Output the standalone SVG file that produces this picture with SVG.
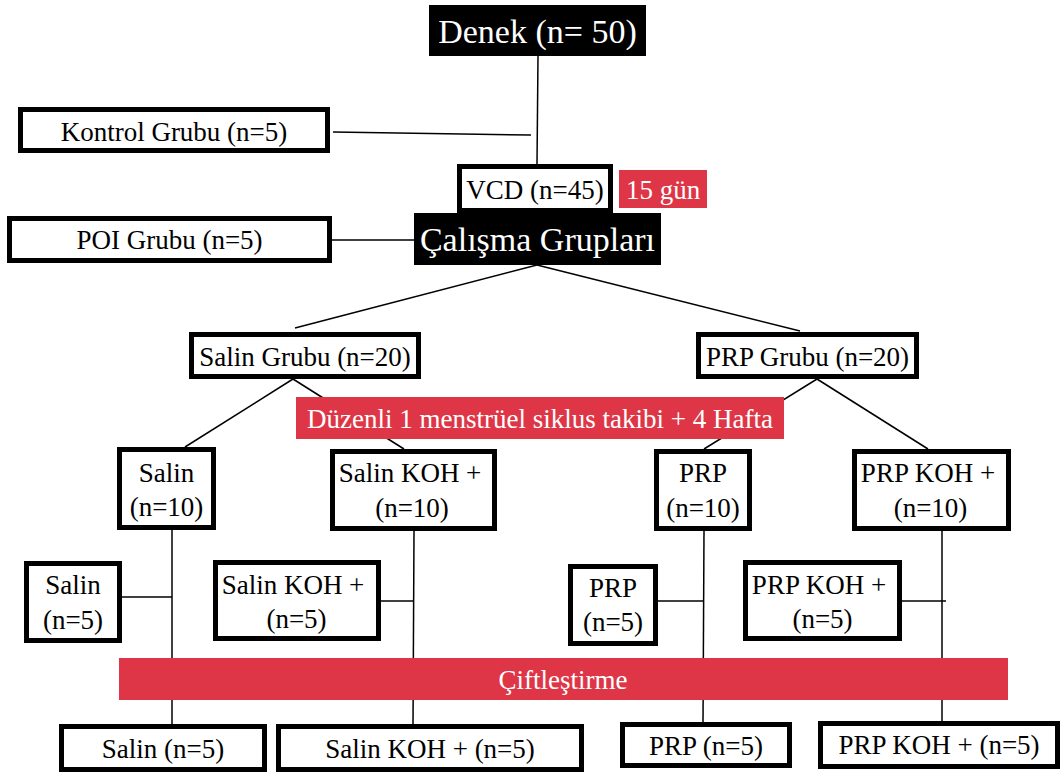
<svg xmlns="http://www.w3.org/2000/svg" width="1061" height="774" viewBox="0 0 1061 774">
<style>
.box{fill:#fff;stroke:#000;stroke-width:5}
.dark{fill:#000}
.red{fill:#DE3646}
.t{font-size:27px;fill:#000;text-anchor:middle}
.w{fill:#fff}
.big{font-size:34px}
.c line{stroke:#000;stroke-width:1.5}
</style>
<rect width="1061" height="774" fill="#fff"/>
<g id="connectors" class="c">
<line x1="538" y1="56" x2="537" y2="164"/>
<line x1="333" y1="132" x2="531" y2="135"/>
<line x1="332" y1="240" x2="414" y2="240"/>
<line x1="537" y1="265" x2="295" y2="328"/>
<line x1="537" y1="265" x2="800" y2="331"/>
<line x1="293" y1="379" x2="185" y2="447"/>
<line x1="293" y1="379" x2="404" y2="449"/>
<line x1="817" y1="379" x2="704" y2="449"/>
<line x1="817" y1="379" x2="928" y2="449"/>
<line x1="172" y1="530" x2="172" y2="724"/>
<line x1="414" y1="531" x2="413" y2="724"/>
<line x1="704" y1="531" x2="703" y2="722"/>
<line x1="942" y1="531" x2="942" y2="721"/>
<line x1="122" y1="597" x2="172" y2="597"/>
<line x1="381" y1="601" x2="414" y2="601"/>
<line x1="658" y1="601" x2="704" y2="601"/>
<line x1="902" y1="601" x2="946" y2="601"/>
</g>
<g id="nodes" font-family="Liberation Serif, Tinos, Times New Roman, DejaVu Serif, serif">
<g id="denek"><rect class="dark" x="429" y="5" width="217" height="51"/><text class="t w big" x="537.5" y="43">Denek (n= 50)</text></g>
<g id="kontrol"><rect class="box" x="20.5" y="109.5" width="307" height="41"/><text class="t" x="174" y="141">Kontrol Grubu (n=5)</text></g>
<g id="vcd"><rect class="box" x="459.5" y="166.5" width="151" height="44"/><text class="t" x="535" y="199">VCD (n=45)</text></g>
<g id="gun15"><rect class="red" x="619" y="170" width="88" height="38"/><text class="t w" x="663" y="199">15 gün</text></g>
<g id="poi"><rect class="box" x="9.5" y="218.5" width="320" height="42"/><text class="t" x="169.5" y="249">POI Grubu (n=5)</text></g>
<g id="calisma"><rect class="dark" x="414" y="213" width="247" height="52"/><text class="t w big" x="537.5" y="251">Çalışma Grupları</text></g>
<g id="salinGrubu"><rect class="box" x="191.5" y="334.5" width="227" height="42"/><text class="t" x="305" y="366">Salin Grubu (n=20)</text></g>
<g id="prpGrubu"><rect class="box" x="698.5" y="334.5" width="218" height="42"/><text class="t" x="807.5" y="366">PRP Grubu (n=20)</text></g>
<g id="duzenli"><rect class="red" x="296" y="397" width="488" height="42"/><text class="t w" x="540" y="428">Düzenli 1 menstrüel siklus takibi + 4 Hafta</text></g>
<g id="salin10"><rect class="box" x="119.5" y="449.5" width="94" height="78"/><text class="t" x="166.5" y="482">Salin</text><text class="t" x="166.5" y="516">(n=10)</text></g>
<g id="salinKoh10"><rect class="box" x="332.5" y="451.5" width="162" height="77"/><text class="t" x="410" y="482">Salin KOH +</text><text class="t" x="412" y="517">(n=10)</text></g>
<g id="prp10"><rect class="box" x="656.5" y="451.5" width="93" height="77"/><text class="t" x="703" y="482">PRP</text><text class="t" x="703" y="517">(n=10)</text></g>
<g id="prpKoh10"><rect class="box" x="854.5" y="451.5" width="154" height="77"/><text class="t" x="928" y="482">PRP KOH +</text><text class="t" x="930.5" y="517">(n=10)</text></g>
<g id="salin5"><rect class="box" x="26.5" y="563.5" width="93" height="77"/><text class="t" x="73" y="594">Salin</text><text class="t" x="73" y="629">(n=5)</text></g>
<g id="salinKoh5"><rect class="box" x="215.5" y="562.5" width="163" height="76"/><text class="t" x="293" y="594">Salin KOH +</text><text class="t" x="296.5" y="628">(n=5)</text></g>
<g id="prp5"><rect class="box" x="570.5" y="566.5" width="85" height="77"/><text class="t" x="613" y="597">PRP</text><text class="t" x="613" y="631">(n=5)</text></g>
<g id="prpKoh5"><rect class="box" x="745.5" y="562.5" width="154" height="76"/><text class="t" x="819" y="594">PRP KOH +</text><text class="t" x="822.5" y="628">(n=5)</text></g>
<g id="ciftlestirme"><rect class="red" x="119" y="658" width="889" height="42"/><text class="t w" x="563" y="689">Çiftleştirme</text></g>
<g id="bSalin5"><rect class="box" x="61.5" y="726.5" width="203" height="43"/><text class="t" x="163" y="758">Salin (n=5)</text></g>
<g id="bSalinKoh5"><rect class="box" x="278.5" y="726.5" width="303" height="43"/><text class="t" x="430" y="758">Salin KOH + (n=5)</text></g>
<g id="bPrp5"><rect class="box" x="622.5" y="724.5" width="167" height="41"/><text class="t" x="706" y="755">PRP (n=5)</text></g>
<g id="bPrpKoh5"><rect class="box" x="820.5" y="723.5" width="237" height="43"/><text class="t" x="939" y="754">PRP KOH + (n=5)</text></g>
</g>
</svg>
